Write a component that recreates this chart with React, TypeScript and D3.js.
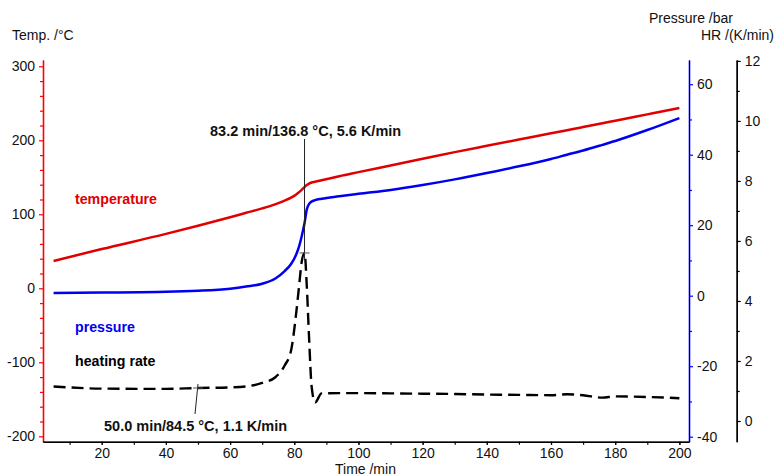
import React, { useRef, useEffect } from 'react';
import * as d3 from 'd3';

// values
const timeMin = [5, 20, 40, 50, 60, 65, 70, 74, 77, 79, 80.5, 81.5, 82.3, 83.2, 83.9, 84.6, 85.4, 86.5, 88.5, 94, 100, 110, 120, 130, 140, 150, 160, 165, 170, 176, 180, 190, 200];
const temperature = [37, 53, 73.5, 84.5, 96, 102, 108, 113.5, 118.5, 122.5, 126.5, 130, 133, 136.8, 139.5, 141.5, 143, 144, 146, 151.5, 157, 166, 175, 184, 192.5, 201, 209.5, 213.5, 218, 223, 226.5, 235, 243.5];
const pressure = [0.8, 0.9, 1.1, 1.4, 2.0, 2.6, 3.4, 4.8, 7.0, 9.0, 11.5, 14, 16.8, 20.6, 24.5, 26, 26.7, 27.1, 27.5, 28.2, 28.9, 30, 31.4, 33, 34.8, 36.7, 38.8, 40, 41.2, 42.8, 43.9, 47, 50.4];
const heatingRate = [1.15, 1.08, 1.07, 1.1, 1.12, 1.15, 1.27, 1.45, 1.85, 2.35, 3.5, 4.5, 5.3, 5.6, 4.5, 2.8, 1.15, 0.62, 0.92, 0.93, 0.93, 0.92, 0.91, 0.9, 0.88, 0.87, 0.86, 0.89, 0.86, 0.78, 0.82, 0.8, 0.76];

const timeTicks = [20, 40, 60, 80, 100, 120, 140, 160, 180, 200];
const tempTicks = [-200, -100, 0, 100, 200, 300];
const pressureTicks = [-40, -20, 0, 20, 40, 60];
const rateTicks = [0, 2, 4, 6, 8, 10, 12];

const markers = [
  { time: 83.2, temp: 136.8, rate: 5.6 },
  { time: 50.0, temp: 84.5, rate: 1.1 }
];

const FONT = "Arial, 'Liberation Sans', sans-serif";
const RED = '#e00000';
const BLUE = '#0000f0';

const range = (a: number, b: number, step: number) => d3.range(a, b + step / 2, step);

const Chart = () => {
  const svgRef = useRef<SVGSVGElement>(null);

  useEffect(() => {
    const svg = d3.select(svgRef.current);
    svg.selectAll('*').remove();

    const left = 43;
    const right = 689;
    const top = 60;
    const bottom = 441.7;
    const hrAxisX = 736.7;

    const x = d3.scaleLinear().domain([1.7, 203]).range([left, right]);
    const yT = d3.scaleLinear().domain([-207.3, 308.5]).range([bottom, top]);
    const yP = d3.scaleLinear().domain([-41.42, 66.87]).range([bottom, top]);
    const yR = d3.scaleLinear().domain([-0.69, 12.03]).range([bottom, top]);

    const plain = (d: any) => String(d);

    const styleAxis = (g: any, color: string) => {
      g.select('.domain').attr('stroke', color).attr('stroke-width', 1.6);
      g.selectAll('.tick line').attr('stroke', color).attr('stroke-width', 1.2);
      g.selectAll('.tick text')
        .attr('fill', '#111')
        .style('font-family', FONT)
        .style('font-size', '14px');
    };

    // left: temperature
    const gT = svg.append('g').attr('transform', `translate(${left},0)`);
    gT.call(d3.axisLeft(yT).tickValues(range(-200, 300, 20).filter(v => v % 100 !== 0)).tickSize(3).tickSizeOuter(0).tickFormat(() => ''));
    gT.call(g => g.append('g').call(d3.axisLeft(yT).tickValues(tempTicks).tickSize(4).tickPadding(4).tickSizeOuter(0).tickFormat(plain)));
    styleAxis(gT, '#ff0000');
    gT.selectAll('.domain').attr('stroke', '#ff0000');

    // bottom: time
    const gX = svg.append('g').attr('transform', `translate(0,${bottom})`);
    gX.call(d3.axisBottom(x).tickValues(range(10, 200, 10)).tickSize(3).tickSizeOuter(0).tickFormat(() => ''));
    gX.call(g => g.append('g').call(d3.axisBottom(x).tickValues(timeTicks).tickSize(3).tickPadding(3).tickSizeOuter(0).tickFormat(plain)));
    styleAxis(gX, '#000');

    // right: pressure
    const gP = svg.append('g').attr('transform', `translate(${right},0)`);
    gP.call(d3.axisRight(yP).tickValues(range(-40, 60, 10).filter(v => v % 20 !== 0)).tickSize(3).tickSizeOuter(0).tickFormat(() => ''));
    gP.call(g => g.append('g').call(d3.axisRight(yP).tickValues(pressureTicks).tickSize(4).tickPadding(4).tickSizeOuter(0).tickFormat(plain)));
    styleAxis(gP, '#0000ff');

    // far right: heating rate
    const gR = svg.append('g').attr('transform', `translate(${hrAxisX},0)`);
    gR.call(d3.axisRight(yR).tickValues(range(1, 11, 2)).tickSize(3).tickSizeOuter(0).tickFormat(() => ''));
    gR.call(g => g.append('g').call(d3.axisRight(yR).tickValues(rateTicks).tickSize(4).tickPadding(4).tickSizeOuter(0).tickFormat(plain)));
    styleAxis(gR, '#000');

    // axis titles
    const title = (tx: number, ty: number, text: string, anchor = 'start') =>
      svg.append('text').attr('x', tx).attr('y', ty).attr('text-anchor', anchor)
        .style('font-family', FONT).style('font-size', '14px').attr('fill', '#111').text(text);
    title(12, 40, 'Temp. /°C');
    title(733, 23, 'Pressure /bar', 'end');
    title(774, 40, 'HR /(K/min)', 'end');
    title(335, 473.5, 'Time /min');

    const idx = d3.range(timeMin.length);
    const mk = (ys: number[], yScale: any) =>
      d3.line<number>().x(i => x(timeMin[i])).y(i => yScale(ys[i])).curve(d3.curveMonotoneX)(idx);

    svg.append('path').attr('d', mk(temperature, yT)).attr('fill', 'none').attr('stroke', RED).attr('stroke-width', 2.5);
    svg.append('path').attr('d', mk(pressure, yP)).attr('fill', 'none').attr('stroke', BLUE).attr('stroke-width', 2.5);
    svg.append('path').attr('d', mk(heatingRate, yR)).attr('fill', 'none').attr('stroke', '#000')
      .attr('stroke-width', 2.4).attr('stroke-dasharray', '12,6');

    // series labels
    const label = (ty: number, text: string, color: string) =>
      svg.append('text').attr('x', 75).attr('y', ty).attr('fill', color)
        .style('font-family', FONT).style('font-size', '14.2px').style('font-weight', 'bold').text(text);
    label(204, 'temperature', RED);
    label(332, 'pressure', BLUE);
    label(366, 'heating rate', '#000');

    // marker annotations
    const fmt = (m: typeof markers[0]) => `${m.time.toFixed(1)} min/${m.temp.toFixed(1)} °C, ${m.rate.toFixed(1)} K/min`;
    const m0 = markers[0];
    const px0 = x(m0.time);
    const py0 = yR(m0.rate);
    svg.append('line').attr('x1', px0).attr('x2', px0).attr('y1', 139).attr('y2', py0 + 6).attr('stroke', '#222').attr('stroke-width', 1);
    svg.append('line').attr('x1', px0 - 5).attr('x2', px0 + 5).attr('y1', py0).attr('y2', py0).attr('stroke', '#555').attr('stroke-width', 1);
    svg.append('text').attr('x', 210).attr('y', 135.5).style('font-family', FONT).style('font-size', '14.5px')
      .style('font-weight', 'bold').attr('fill', '#111').text(fmt(m0));

    const m1 = markers[1];
    const px1 = x(m1.time);
    const py1 = yR(m1.rate);
    svg.append('line').attr('x1', px1).attr('x2', px1 - 3).attr('y1', py1 - 4).attr('y2', 414).attr('stroke', '#222').attr('stroke-width', 1);
    svg.append('line').attr('x1', px1 - 5).attr('x2', px1 + 5).attr('y1', py1).attr('y2', py1).attr('stroke', '#555').attr('stroke-width', 1);
    svg.append('text').attr('x', 104).attr('y', 430.5).style('font-family', FONT).style('font-size', '14.5px')
      .style('font-weight', 'bold').attr('fill', '#111').text(fmt(m1));
  }, []);

  return <svg ref={svgRef} width={776} height={474} style={{ display: 'block', background: '#fff' }} />;
};

export default function App() {
  return (
    <div style={{ position: 'fixed', left: 0, top: 0, width: 776, height: 474, background: '#fff' }}>
      <Chart />
    </div>
  );
}
